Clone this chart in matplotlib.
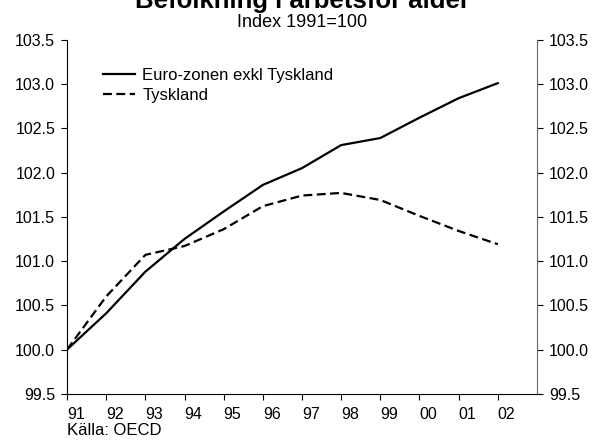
import numpy as np
import matplotlib.pyplot as plt

plt.rcParams["font.family"] = ["Liberation Sans", "DejaVu Sans"]

years = [1991, 1992, 1993, 1994, 1995, 1996, 1997, 1998, 1999, 2000, 2001, 2002]
tick_labels = ["91", "92", "93", "94", "95", "96", "97", "98", "99", "00", "01", "02"]
euro_exkl = [100.0, 100.41, 100.88, 101.25, 101.56, 101.86, 102.05, 102.31, 102.39, 102.62, 102.84, 103.01]
tyskland = [100.0, 100.60, 101.07, 101.17, 101.36, 101.62, 101.74, 101.77, 101.69, 101.51, 101.34, 101.19]

fig = plt.figure(figsize=(6.04, 4.42), dpi=100)
ax = fig.add_axes([0.111, 0.109, 0.778, 0.801])

ax.plot(years, euro_exkl, color="black", lw=1.6, label="Euro-zonen exkl Tyskland")
ax.plot(years, tyskland, color="black", lw=1.6, ls=(0, (4, 2)), label="Tyskland")

ax.set_xlim(1991, 2003)
ax.set_ylim(99.5, 103.5)
ax.set_xticks(years)
ax.set_xticklabels(tick_labels, ha="left")
yt = np.arange(99.5, 103.51, 0.5)
ax.set_yticks(yt)
ax.set_yticklabels([f"{v:.1f}" for v in yt])
ax.tick_params(axis="both", direction="out", length=4.5, labelsize=11.5, color="black")
ax.tick_params(axis="x", pad=5)
ax.tick_params(axis="y", right=True, labelright=True, pad=4)
ax.spines["top"].set_visible(False)
ax.spines["right"].set_color("#666666")

# legend sits inside the plot, no frame
leg = ax.legend(loc="upper left", bbox_to_anchor=(0.077, 0.921), frameon=False,
                fontsize=12, handlelength=1.9, handletextpad=0.45, labelspacing=0.3,
                borderaxespad=0, borderpad=0)

fig.text(0.5, 0.982, "Befolkning i arbetsför ålder", ha="center", va="baseline",
         fontsize=18.5, fontweight="bold")
fig.text(0.5, 0.940, "Index 1991=100", ha="center", va="baseline", fontsize=13)
fig.text(0.111, 0.016, "Källa: OECD", ha="left", va="baseline", fontsize=12)

fig.savefig("out.png", dpi=100)
